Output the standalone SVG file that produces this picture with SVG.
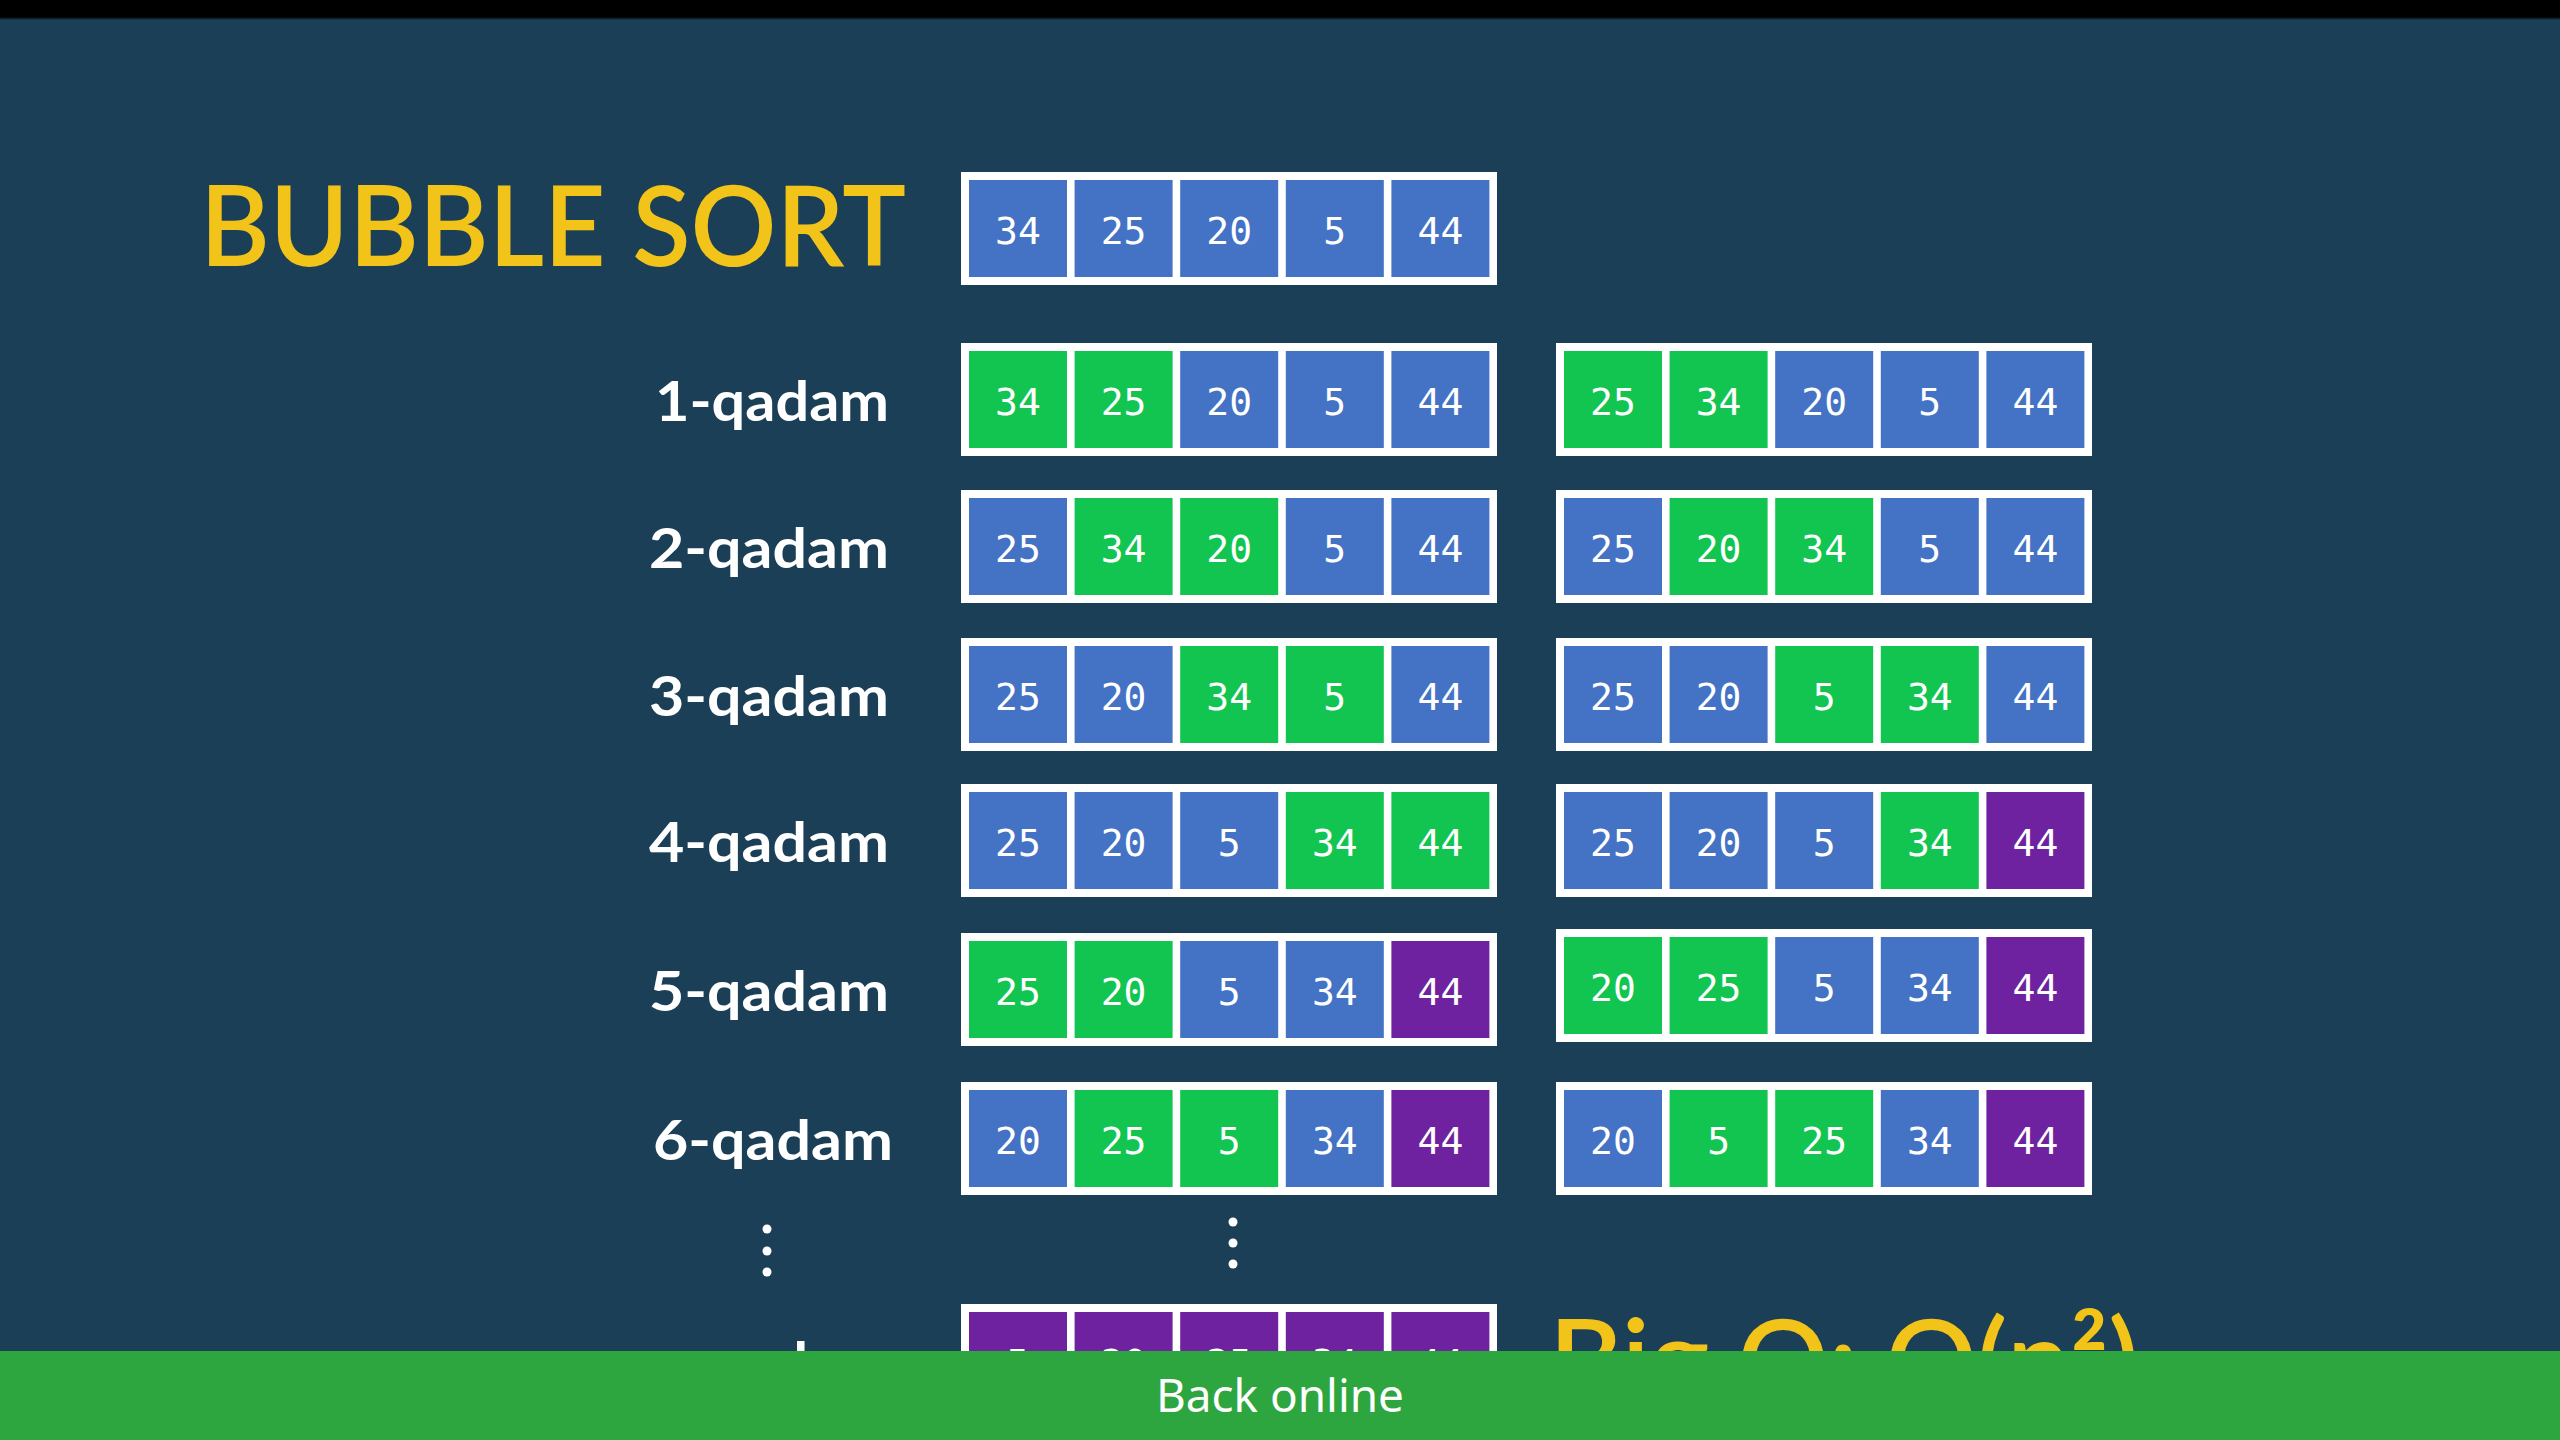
<svg xmlns="http://www.w3.org/2000/svg" width="2560" height="1440" viewBox="0 0 2560 1440">
<defs>
<linearGradient id="topfade" x1="0" y1="0" x2="0" y2="1">
<stop offset="0" stop-color="#000000"/>
<stop offset="1" stop-color="#1B3F57"/>
</linearGradient>
<clipPath id="abovebar"><rect x="0" y="0" width="2560" height="1351"/></clipPath>
</defs>
<style>
.frame{fill:#FFFFFF;}
.b{fill:#4472C4;}
.g{fill:#12C551;}
.p{fill:#6F22A0;}
.num{font-family:"DejaVu Sans Mono","Liberation Mono",monospace;font-size:38px;fill:#FFFFFF;text-anchor:middle;}
.lbl{font-family:Lato,"Liberation Sans",sans-serif;font-weight:bold;font-size:56px;fill:#FFFFFF;text-anchor:end;}
.title{font-family:Lato,"Liberation Sans",sans-serif;font-weight:600;font-size:112px;fill:#F2C318;}
.dot{fill:#FFFFFF;}
</style>
<rect x="0" y="0" width="2560" height="1440" fill="#1B3F57"/>
<rect x="0" y="0" width="2560" height="17" fill="#000000"/>
<rect x="0" y="17" width="2560" height="3" fill="url(#topfade)"/>

<g id="title">
<text class="title" x="200" y="266" textLength="706" lengthAdjust="spacingAndGlyphs">BUBBLE SORT</text>
</g>

<g id="array-initial" transform="translate(961,172)">
<rect class="frame" x="0" y="0" width="536" height="113"/>
<rect class="b" x="8" y="8" width="98" height="97"/><rect class="b" x="113.6" y="8" width="98" height="97"/><rect class="b" x="219.2" y="8" width="98" height="97"/><rect class="b" x="324.8" y="8" width="98" height="97"/><rect class="b" x="430.4" y="8" width="98" height="97"/>
<text class="num" x="57" y="72">34</text><text class="num" x="162.6" y="72">25</text><text class="num" x="268.2" y="72">20</text><text class="num" x="373.8" y="72">5</text><text class="num" x="479.4" y="72">44</text>
</g>

<g id="label-1"><text class="lbl" x="889" y="421" textLength="234" lengthAdjust="spacingAndGlyphs">1-qadam</text></g>
<g id="step1-before" transform="translate(961,343)">
<rect class="frame" x="0" y="0" width="536" height="113"/>
<rect class="g" x="8" y="8" width="98" height="97"/><rect class="g" x="113.6" y="8" width="98" height="97"/><rect class="b" x="219.2" y="8" width="98" height="97"/><rect class="b" x="324.8" y="8" width="98" height="97"/><rect class="b" x="430.4" y="8" width="98" height="97"/>
<text class="num" x="57" y="72">34</text><text class="num" x="162.6" y="72">25</text><text class="num" x="268.2" y="72">20</text><text class="num" x="373.8" y="72">5</text><text class="num" x="479.4" y="72">44</text>
</g>
<g id="step1-after" transform="translate(1556,343)">
<rect class="frame" x="0" y="0" width="536" height="113"/>
<rect class="g" x="8" y="8" width="98" height="97"/><rect class="g" x="113.6" y="8" width="98" height="97"/><rect class="b" x="219.2" y="8" width="98" height="97"/><rect class="b" x="324.8" y="8" width="98" height="97"/><rect class="b" x="430.4" y="8" width="98" height="97"/>
<text class="num" x="57" y="72">25</text><text class="num" x="162.6" y="72">34</text><text class="num" x="268.2" y="72">20</text><text class="num" x="373.8" y="72">5</text><text class="num" x="479.4" y="72">44</text>
</g>

<g id="label-2"><text class="lbl" x="889" y="568" textLength="240" lengthAdjust="spacingAndGlyphs">2-qadam</text></g>
<g id="step2-before" transform="translate(961,490)">
<rect class="frame" x="0" y="0" width="536" height="113"/>
<rect class="b" x="8" y="8" width="98" height="97"/><rect class="g" x="113.6" y="8" width="98" height="97"/><rect class="g" x="219.2" y="8" width="98" height="97"/><rect class="b" x="324.8" y="8" width="98" height="97"/><rect class="b" x="430.4" y="8" width="98" height="97"/>
<text class="num" x="57" y="72">25</text><text class="num" x="162.6" y="72">34</text><text class="num" x="268.2" y="72">20</text><text class="num" x="373.8" y="72">5</text><text class="num" x="479.4" y="72">44</text>
</g>
<g id="step2-after" transform="translate(1556,490)">
<rect class="frame" x="0" y="0" width="536" height="113"/>
<rect class="b" x="8" y="8" width="98" height="97"/><rect class="g" x="113.6" y="8" width="98" height="97"/><rect class="g" x="219.2" y="8" width="98" height="97"/><rect class="b" x="324.8" y="8" width="98" height="97"/><rect class="b" x="430.4" y="8" width="98" height="97"/>
<text class="num" x="57" y="72">25</text><text class="num" x="162.6" y="72">20</text><text class="num" x="268.2" y="72">34</text><text class="num" x="373.8" y="72">5</text><text class="num" x="479.4" y="72">44</text>
</g>

<g id="label-3"><text class="lbl" x="889" y="716" textLength="240" lengthAdjust="spacingAndGlyphs">3-qadam</text></g>
<g id="step3-before" transform="translate(961,638)">
<rect class="frame" x="0" y="0" width="536" height="113"/>
<rect class="b" x="8" y="8" width="98" height="97"/><rect class="b" x="113.6" y="8" width="98" height="97"/><rect class="g" x="219.2" y="8" width="98" height="97"/><rect class="g" x="324.8" y="8" width="98" height="97"/><rect class="b" x="430.4" y="8" width="98" height="97"/>
<text class="num" x="57" y="72">25</text><text class="num" x="162.6" y="72">20</text><text class="num" x="268.2" y="72">34</text><text class="num" x="373.8" y="72">5</text><text class="num" x="479.4" y="72">44</text>
</g>
<g id="step3-after" transform="translate(1556,638)">
<rect class="frame" x="0" y="0" width="536" height="113"/>
<rect class="b" x="8" y="8" width="98" height="97"/><rect class="b" x="113.6" y="8" width="98" height="97"/><rect class="g" x="219.2" y="8" width="98" height="97"/><rect class="g" x="324.8" y="8" width="98" height="97"/><rect class="b" x="430.4" y="8" width="98" height="97"/>
<text class="num" x="57" y="72">25</text><text class="num" x="162.6" y="72">20</text><text class="num" x="268.2" y="72">5</text><text class="num" x="373.8" y="72">34</text><text class="num" x="479.4" y="72">44</text>
</g>

<g id="label-4"><text class="lbl" x="889" y="862" textLength="240" lengthAdjust="spacingAndGlyphs">4-qadam</text></g>
<g id="step4-before" transform="translate(961,784)">
<rect class="frame" x="0" y="0" width="536" height="113"/>
<rect class="b" x="8" y="8" width="98" height="97"/><rect class="b" x="113.6" y="8" width="98" height="97"/><rect class="b" x="219.2" y="8" width="98" height="97"/><rect class="g" x="324.8" y="8" width="98" height="97"/><rect class="g" x="430.4" y="8" width="98" height="97"/>
<text class="num" x="57" y="72">25</text><text class="num" x="162.6" y="72">20</text><text class="num" x="268.2" y="72">5</text><text class="num" x="373.8" y="72">34</text><text class="num" x="479.4" y="72">44</text>
</g>
<g id="step4-after" transform="translate(1556,784)">
<rect class="frame" x="0" y="0" width="536" height="113"/>
<rect class="b" x="8" y="8" width="98" height="97"/><rect class="b" x="113.6" y="8" width="98" height="97"/><rect class="b" x="219.2" y="8" width="98" height="97"/><rect class="g" x="324.8" y="8" width="98" height="97"/><rect class="p" x="430.4" y="8" width="98" height="97"/>
<text class="num" x="57" y="72">25</text><text class="num" x="162.6" y="72">20</text><text class="num" x="268.2" y="72">5</text><text class="num" x="373.8" y="72">34</text><text class="num" x="479.4" y="72">44</text>
</g>

<g id="label-5"><text class="lbl" x="889" y="1011" textLength="240" lengthAdjust="spacingAndGlyphs">5-qadam</text></g>
<g id="step5-before" transform="translate(961,933)">
<rect class="frame" x="0" y="0" width="536" height="113"/>
<rect class="g" x="8" y="8" width="98" height="97"/><rect class="g" x="113.6" y="8" width="98" height="97"/><rect class="b" x="219.2" y="8" width="98" height="97"/><rect class="b" x="324.8" y="8" width="98" height="97"/><rect class="p" x="430.4" y="8" width="98" height="97"/>
<text class="num" x="57" y="72">25</text><text class="num" x="162.6" y="72">20</text><text class="num" x="268.2" y="72">5</text><text class="num" x="373.8" y="72">34</text><text class="num" x="479.4" y="72">44</text>
</g>
<g id="step5-after" transform="translate(1556,929)">
<rect class="frame" x="0" y="0" width="536" height="113"/>
<rect class="g" x="8" y="8" width="98" height="97"/><rect class="g" x="113.6" y="8" width="98" height="97"/><rect class="b" x="219.2" y="8" width="98" height="97"/><rect class="b" x="324.8" y="8" width="98" height="97"/><rect class="p" x="430.4" y="8" width="98" height="97"/>
<text class="num" x="57" y="72">20</text><text class="num" x="162.6" y="72">25</text><text class="num" x="268.2" y="72">5</text><text class="num" x="373.8" y="72">34</text><text class="num" x="479.4" y="72">44</text>
</g>

<g id="label-6"><text class="lbl" x="893" y="1160" textLength="240" lengthAdjust="spacingAndGlyphs">6-qadam</text></g>
<g id="step6-before" transform="translate(961,1082)">
<rect class="frame" x="0" y="0" width="536" height="113"/>
<rect class="b" x="8" y="8" width="98" height="97"/><rect class="g" x="113.6" y="8" width="98" height="97"/><rect class="g" x="219.2" y="8" width="98" height="97"/><rect class="b" x="324.8" y="8" width="98" height="97"/><rect class="p" x="430.4" y="8" width="98" height="97"/>
<text class="num" x="57" y="72">20</text><text class="num" x="162.6" y="72">25</text><text class="num" x="268.2" y="72">5</text><text class="num" x="373.8" y="72">34</text><text class="num" x="479.4" y="72">44</text>
</g>
<g id="step6-after" transform="translate(1556,1082)">
<rect class="frame" x="0" y="0" width="536" height="113"/>
<rect class="b" x="8" y="8" width="98" height="97"/><rect class="g" x="113.6" y="8" width="98" height="97"/><rect class="g" x="219.2" y="8" width="98" height="97"/><rect class="b" x="324.8" y="8" width="98" height="97"/><rect class="p" x="430.4" y="8" width="98" height="97"/>
<text class="num" x="57" y="72">20</text><text class="num" x="162.6" y="72">5</text><text class="num" x="268.2" y="72">25</text><text class="num" x="373.8" y="72">34</text><text class="num" x="479.4" y="72">44</text>
</g>

<g id="ellipsis-labels">
<circle class="dot" cx="767" cy="1229" r="4.5"/><circle class="dot" cx="767" cy="1251" r="4.5"/><circle class="dot" cx="767" cy="1272" r="4.5"/>
</g>
<g id="ellipsis-arrays">
<circle class="dot" cx="1233" cy="1222" r="4.5"/><circle class="dot" cx="1233" cy="1243" r="4.5"/><circle class="dot" cx="1233" cy="1264" r="4.5"/>
</g>

<g id="label-n" clip-path="url(#abovebar)"><text class="lbl" x="889" y="1382" textLength="236" lengthAdjust="spacingAndGlyphs">n-qadam</text></g>
<g id="array-final" transform="translate(961,1304)">
<rect class="frame" x="0" y="0" width="536" height="113"/>
<rect class="p" x="8" y="8" width="98" height="97"/><rect class="p" x="113.6" y="8" width="98" height="97"/><rect class="p" x="219.2" y="8" width="98" height="97"/><rect class="p" x="324.8" y="8" width="98" height="97"/><rect class="p" x="430.4" y="8" width="98" height="97"/>
<text class="num" x="57" y="72">5</text><text class="num" x="162.6" y="72">20</text><text class="num" x="268.2" y="72">25</text><text class="num" x="373.8" y="72">34</text><text class="num" x="479.4" y="72">44</text>
</g>

<g id="big-o">
<text class="title" x="1549" y="1400" textLength="590" lengthAdjust="spacingAndGlyphs">Big O: O(n²)</text>
</g>

<g id="connectors"></g>

<g id="status-bar">
<rect x="0" y="1351" width="2560" height="89" fill="#2EA640"/>
<text x="1280" y="1412" font-family="'Noto Sans','Open Sans','Liberation Sans',sans-serif" font-size="46" fill="#FFFFFF" text-anchor="middle" textLength="248" lengthAdjust="spacingAndGlyphs">Back online</text>
</g>
</svg>
